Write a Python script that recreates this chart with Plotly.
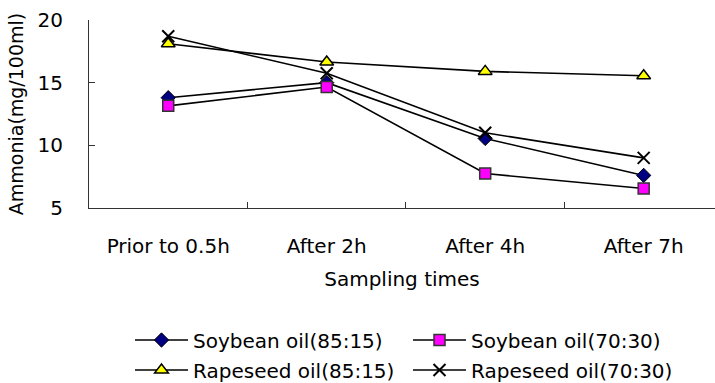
import plotly.graph_objects as go

categories = ["Prior to 0.5h", "After 2h", "After 4h", "After 7h"]
soy_85_15 = [13.8, 15.0, 10.55, 7.6]
soy_70_30 = [13.15, 14.65, 7.75, 6.55]
rape_85_15 = [18.1, 16.65, 15.9, 15.55]
rape_70_30 = [18.7, 15.75, 11.0, 9.0]
y_ticks = [5, 10, 15, 20]

FONT = "DejaVu Sans"

fig = go.Figure()
series = [
    ("Soybean oil(85:15)", soy_85_15, dict(symbol="diamond", size=11, color="#000080", line=dict(color="#000000", width=1)), "legend"),
    ("Soybean oil(70:30)", soy_70_30, dict(symbol="square", size=11, color="#FF00FF", line=dict(color="#333333", width=1.5)), "legend"),
    ("Rapeseed oil(85:15)", rape_85_15, dict(symbol="triangle-up", size=12, color="#FFFF00", line=dict(color="#000000", width=1.5)), "legend2"),
    ("Rapeseed oil(70:30)", rape_70_30, dict(symbol="x-thin", size=12, color="#000000", line=dict(color="#000000", width=2)), "legend2"),
]
for name, vals, marker, lg in series:
    fig.add_trace(go.Scatter(x=categories, y=vals, name=name, mode="lines+markers",
                             line=dict(color="#000000", width=1.6), marker=marker, legend=lg))

legend_common = dict(orientation="h", xref="container", yref="container", xanchor="left", yanchor="middle",
                     x=130/715, font=dict(family=FONT, size=20, color="#000000"), itemwidth=53,
                     entrywidth=210, entrywidthmode="pixels", bgcolor="rgba(0,0,0,0)", itemclick=False)

fig.update_layout(
    width=715, height=383,
    margin=dict(l=89, r=0, t=20, b=175),
    paper_bgcolor="white", plot_bgcolor="white",
    font=dict(family=FONT, size=20, color="#000000"),
    showlegend=True,
    legend=dict(legend_common, y=1 - 340/383),
    legend2=dict(legend_common, y=1 - 370/383),
    xaxis=dict(type="category", range=[-0.5, 3.45], showline=True, linecolor="#333333", linewidth=1.2,
               ticks="inside", ticklen=6, tickcolor="#333333", tickson="boundaries", showgrid=False,
               tickfont=dict(family=FONT, size=20), zeroline=False, ticklabelstandoff=20,
               title=dict(text="Sampling times", font=dict(family=FONT, size=20), standoff=14)),
    yaxis=dict(range=[5, 20], tickvals=y_ticks, showline=True, linecolor="#333333", linewidth=1.2,
               ticks="inside", ticklen=6, tickcolor="#333333", showgrid=False, zeroline=False,
               tickfont=dict(family=FONT, size=20), ticklabelstandoff=21,
               title=dict(text="Ammonia(mg/100ml)", font=dict(family=FONT, size=19), standoff=8)),
)

fig.write_html("out.html")
